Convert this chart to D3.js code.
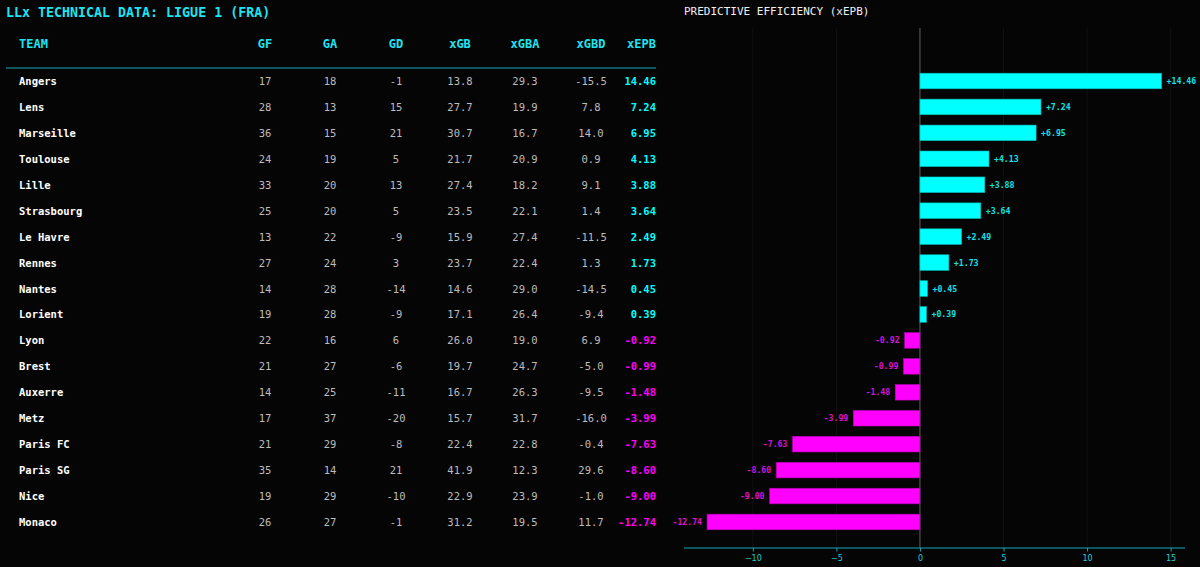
<!DOCTYPE html>
<html><head><meta charset="utf-8">
<script src="https://cdn.jsdelivr.net/npm/d3@7"></script>
<style>html,body{margin:0;padding:0;background:#050505;}svg{display:block;}</style>
</head><body>
<svg id="c" width="1200" height="567"></svg>
<script>
const teams = ["Angers","Lens","Marseille","Toulouse","Lille","Strasbourg","Le Havre","Rennes","Nantes","Lorient","Lyon","Brest","Auxerre","Metz","Paris FC","Paris SG","Nice","Monaco"];
const GF  = [17,28,36,24,33,25,13,27,14,19,22,21,14,17,21,35,19,26];
const GA  = [18,13,15,19,20,20,22,24,28,28,16,27,25,37,29,14,29,27];
const GD  = [-1,15,21,5,13,5,-9,3,-14,-9,6,-6,-11,-20,-8,21,-10,-1];
const xGB = [13.8,27.7,30.7,21.7,27.4,23.5,15.9,23.7,14.6,17.1,26.0,19.7,16.7,15.7,22.4,41.9,22.9,31.2];
const xGBA= [29.3,19.9,16.7,20.9,18.2,22.1,27.4,22.4,29.0,26.4,19.0,24.7,26.3,31.7,22.8,12.3,23.9,19.5];
const xGBD= [-15.5,7.8,14.0,0.9,9.1,1.4,-11.5,1.3,-14.5,-9.4,6.9,-5.0,-9.5,-16.0,-0.4,29.6,-1.0,11.7];
const xEPB= [14.46,7.24,6.95,4.13,3.88,3.64,2.49,1.73,0.45,0.39,-0.92,-0.99,-1.48,-3.99,-7.63,-8.60,-9.00,-12.74];
const headers = ["TEAM","GF","GA","GD","xGB","xGBA","xGBD","xEPB"];
const xTicks = [-10,-5,0,5,10,15];

(function(){
const CYAN="#00ffff", MAG="#ff00ff", HEAD="#1fe3ee", MONO="'DejaVu Sans Mono', monospace";
const svg = d3.select("#c");
svg.append("rect").attr("width",1200).attr("height",567).attr("fill","#050505");

// titles
svg.append("text").attr("x",6).attr("y",17).attr("fill",HEAD).attr("font-family",MONO)
  .attr("font-weight","bold").attr("font-size",13.3).text("LLx TECHNICAL DATA: LIGUE 1 (FRA)");
svg.append("text").attr("x",684).attr("y",15).attr("fill","#f0f0f0").attr("font-family",MONO)
  .attr("font-size",11).text("PREDICTIVE EFFICIENCY (xEPB)");

// row scale shared
const y = d3.scalePoint().domain(teams).range([81, 81 + 17*25.94]);

// ---- table ----
const colX = {GF:265, GA:330, GD:396, xGB:460, xGBA:525, xGBD:591};
const tbl = svg.append("g");
headers.forEach(h=>{
  const t = tbl.append("text").attr("y",48).attr("fill",HEAD).attr("font-family",MONO)
    .attr("font-weight","bold").attr("font-size",12).text(h);
  if(h==="TEAM") t.attr("x",19);
  else if(h==="xEPB") t.attr("x",656).attr("text-anchor","end");
  else t.attr("x",colX[h]).attr("text-anchor","middle");
});
tbl.append("line").attr("x1",6).attr("x2",656).attr("y1",68).attr("y2",68).attr("stroke","#1aa8b4").attr("stroke-width",1.2);

const cols = [["GF",GF,d=>String(d)],["GA",GA,d=>String(d)],["GD",GD,d=>String(d)],
  ["xGB",xGB,d=>d.toFixed(1)],["xGBA",xGBA,d=>d.toFixed(1)],["xGBD",xGBD,d=>d.toFixed(1)]];
teams.forEach((tm,i)=>{
  const yy = y(tm)+4;
  tbl.append("text").attr("x",19).attr("y",yy).attr("fill","#ffffff").attr("font-family",MONO)
    .attr("font-weight","bold").attr("font-size",10.5).text(tm);
  cols.forEach(([k,arr,f])=>{
    tbl.append("text").attr("x",colX[k]).attr("y",yy).attr("text-anchor","middle").attr("fill","#bdbdbd")
      .attr("font-family",MONO).attr("font-size",10.5).text(f(arr[i]));
  });
  tbl.append("text").attr("x",656).attr("y",yy).attr("text-anchor","end")
    .attr("fill", xEPB[i]>=0?CYAN:MAG).attr("font-family",MONO).attr("font-weight","bold")
    .attr("font-size",10.5).text(xEPB[i].toFixed(2));
});

// ---- bar chart ----
const x = d3.scaleLinear().domain([-14.12, 15.86]).range([684, 1185]);
const yTop = 28, yBot = 548;
const g = svg.append("g");
g.selectAll(".grid").data(xTicks).join("line").attr("x1",d=>x(d)).attr("x2",d=>x(d))
  .attr("y1",yTop).attr("y2",yBot).attr("stroke","#111111").attr("stroke-width",1);
g.append("line").attr("x1",x(0)).attr("x2",x(0)).attr("y1",yTop).attr("y2",yBot).attr("stroke","#5a5a5a").attr("stroke-width",1);

const bh = 15.6;
g.selectAll(".bar").data(teams).join("rect")
  .attr("x",(d,i)=>Math.min(x(0),x(xEPB[i])))
  .attr("width",(d,i)=>Math.abs(x(xEPB[i])-x(0)))
  .attr("y",d=>y(d)-bh/2).attr("height",bh)
  .attr("fill",(d,i)=>xEPB[i]>=0?CYAN:MAG)
  .attr("stroke",(d,i)=>xEPB[i]>=0?"#00b8b8":"#b000b0").attr("stroke-width",0.6);

g.selectAll(".lab").data(teams).join("text")
  .attr("x",(d,i)=>xEPB[i]>=0? x(xEPB[i])+5 : x(xEPB[i])-5)
  .attr("y",d=>y(d)+3)
  .attr("text-anchor",(d,i)=>xEPB[i]>=0?"start":"end")
  .attr("fill",(d,i)=>xEPB[i]>=0?"#12e0e6":"#d811d8")
  .attr("font-family",MONO).attr("font-weight","bold").attr("font-size",8.2)
  .text((d,i)=>(xEPB[i]>=0?"+":"")+xEPB[i].toFixed(2));

const ax = svg.append("g").attr("transform",`translate(0,${yBot})`)
  .call(d3.axisBottom(x).tickValues(xTicks).tickSize(3.5).tickPadding(4).tickFormat(d=>d<0?"\u2212"+Math.abs(d):String(d)));
ax.select(".domain").attr("stroke","#1aa8b4").attr("d","M684,0H1185");
ax.selectAll(".tick line").attr("stroke","#1aa8b4");
ax.selectAll(".tick text").attr("fill","#1ecfd8").attr("font-family","'DejaVu Sans', sans-serif").attr("font-size",8);
})();
</script>
</body></html>
